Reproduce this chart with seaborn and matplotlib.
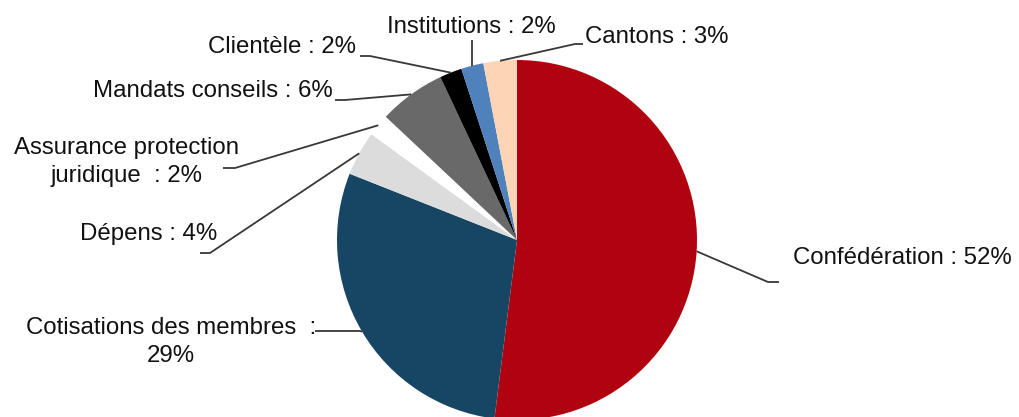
import matplotlib
matplotlib.use("Agg")
import matplotlib.pyplot as plt
import seaborn as sns
import numpy as np

# ---- data ----
categories = ["Confédération", "Cotisations des membres", "Dépens",
              "Assurance protection juridique", "Mandats conseils",
              "Clientèle", "Institutions", "Cantons"]
values = [52, 29, 4, 2, 6, 2, 2, 3]
label_texts = ["Confédération : 52%", "Cotisations des membres  :\n29%",
               "Dépens : 4%", "Assurance protection\njuridique  : 2%",
               "Mandats conseils : 6%", "Clientèle : 2%",
               "Institutions : 2%", "Cantons : 3%"]
colors = ["#AF0410", "#164663", "#DCDCDC", "#FFFFFF", "#696969",
          "#000000", "#4F81BD", "#FBD5B5"]

# ---- layout (pixel coordinates, y measured from top) ----
W, H = 1020, 417
center_px = (517, 240)
radius_px = 180
# elbow point, end of leader, text anchor (baseline of last line), alignment
elbows = [(768, 282), (360, 331), (210, 253), (235, 168), (345, 100),
          (370, 56), (None, 45), (575, 44)]
ends = [(779, 282), (315, 331), (200, 253), (223, 168), (335, 100),
        (360, 56), (None, 40), (583, 44)]
text_pos = [(793, 264), (171, 362), (217, 240), (127, 182), (333, 97),
            (356, 53), (471, 33), (585, 43)]
text_ha = ["left", "center", "right", "center", "right", "right",
           "center", "left"]

sns.set_theme(style="white")
plt.rcParams['font.family'] = ['Liberation Sans', 'DejaVu Sans']

fig = plt.figure(figsize=(W / 100, H / 100), dpi=100)
ax = fig.add_axes([0, 0, 1, 1])


def px(p):
    return (p[0], H - p[1])


cx, cy = px(center_px)
wedges, _ = ax.pie(values, colors=colors, startangle=90, counterclock=False,
                   center=(cx, cy), radius=radius_px, frame=True,
                   wedgeprops=dict(linewidth=0, antialiased=True))

ax.set_xlim(0, W)
ax.set_ylim(0, H)
ax.set_aspect('equal', adjustable='box')
ax.axis('off')

line_color = "#383838"
text_color = "#111111"
for w, el, en, tp, ha, txt in zip(wedges, elbows, ends, text_pos, text_ha,
                                  label_texts):
    mid = np.deg2rad((w.theta1 + w.theta2) / 2)
    sx = cx + radius_px * np.cos(mid)
    sy = cy + radius_px * np.sin(mid)
    if el[0] is None:
        e1 = (sx, H - el[1])
        e2 = (sx, H - en[1])
    else:
        e1 = px(el)
        e2 = px(en)
    ax.plot([sx, e1[0], e2[0]], [sy, e1[1], e2[1]], color=line_color,
            lw=1.3, solid_capstyle='butt', clip_on=False)
    tx, ty = px(tp)
    ax.text(tx, ty, txt, ha=ha, va='baseline', multialignment='center',
            fontsize=17.3, color=text_color, linespacing=1.38)

fig.savefig("out.png", dpi=100, facecolor="white")
